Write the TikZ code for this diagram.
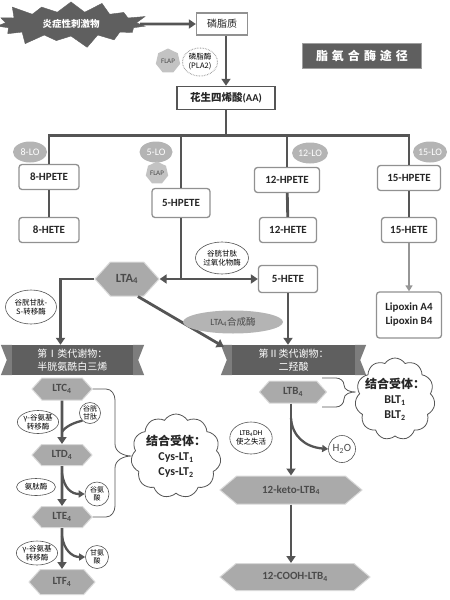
\documentclass[tikz,border=0pt]{standalone}
\usepackage{fontspec}
\setmainfont{Carlito}
\newfontfamily\cjk{Noto Sans CJK SC}
\usetikzlibrary{arrows.meta,positioning,shapes.geometric,shapes.symbols,calc}
\definecolor{lxedge}{RGB}{85,85,85}
\definecolor{lxbox}{RGB}{145,145,145}
\definecolor{lxhex}{RGB}{170,170,170}
\definecolor{lxink}{RGB}{75,75,75}
\definecolor{lxband}{RGB}{95,95,95}
\definecolor{lxtail}{RGB}{125,125,125}
\definecolor{lxlo}{RGB}{180,180,180}
\definecolor{lxlight}{RGB}{150,150,150}
\tikzset{
  lxbox/.style={
    draw=lxbox, line width=1.3pt, rounded corners=3pt, fill=white,
    align=center, inner sep=2pt, font=\fontsize{11}{13}\selectfont\bfseries,
    text=black!85, minimum width=60pt, minimum height=25pt
  },
  hexa/.style={
    shape=signal, signal to=east and west, signal pointer angle=96,
    draw=lxhex!45!white, line width=1pt, fill=lxhex, text=lxink,
    font=\fontsize{11}{13}\selectfont\bfseries, inner sep=1pt
  },
  lo/.style={ellipse, fill=lxlo, text=white, font=\fontsize{10}{12}\selectfont,
    inner sep=0pt, minimum width=34pt, minimum height=21pt},
  flap/.style={regular polygon, regular polygon sides=7, fill=lxlo!80!white,
    text=lxink, font=\fontsize{7}{8}\selectfont, inner sep=0pt, minimum size=25pt},
  enz/.style={ellipse, draw=lxedge, line width=0.6pt, fill=white, align=center,
    font=\fontsize{7.5}{9}\selectfont\cjk, inner sep=0pt},
  ring/.style={circle, draw=lxedge, line width=0.6pt, fill=white, align=center,
    font=\fontsize{7}{8}\selectfont\cjk, inner sep=0pt},
  band/.style={fill=lxband, text=white, align=center,
    font=\fontsize{10}{13}\selectfont\cjk, minimum height=30pt, inner sep=1pt},
  tail/.style={fill=lxtail},
  arr/.style={-{Triangle[length=7pt,width=9pt]}, draw=lxedge, line width=2.8pt},
  darr/.style={arr, {Triangle[length=7pt,width=9pt]}-{Triangle[length=7pt,width=9pt]}},
  sarr/.style={-{Triangle[length=6pt,width=7pt]}, draw=lxedge, line width=2.3pt},
  ln/.style={draw=lxedge, line width=2.8pt},
  brace/.style={draw=lxedge, line width=0.8pt},
  rcloud/.style={cloud, cloud puffs=11, cloud puff arc=115, draw=lxedge,
    line width=0.8pt, fill=white, inner sep=0pt},
  cloudtxt/.style={align=center, font=\fontsize{12}{15}\selectfont\bfseries, text=black!85}
}
\newcommand{\lxtails}[1]{%
  \fill[tail] (#1.north west) -- ++(-11,0) -- ([xshift=-5pt]#1.west)
    -- ([xshift=-11pt]#1.south west) -- (#1.south west) -- cycle;
  \fill[tail] (#1.north east) -- ++(11,0) -- ([xshift=5pt]#1.east)
    -- ([xshift=11pt]#1.south east) -- (#1.south east) -- cycle;}
\newcommand{\lsub}[1]{\textsubscript{#1}}
\begin{document}
\begin{tikzpicture}[x=1pt, y=-1pt]
  \useasboundingbox (0,0) rectangle (450,600);
  % top: stimulus, phospholipid, arachidonic acid
  \node[starburst, starburst points=15, starburst point height=14pt, fill=lxband,
    draw=lxband, text=white, font=\fontsize{9.5}{11}\selectfont\cjk\bfseries,
    inner xsep=18pt, inner ysep=4pt] (stim) at (71,24) {炎症性刺激物};
  \node[lxbox, rounded corners=0pt, minimum width=51pt, minimum height=22pt,
    font=\fontsize{10}{12}\selectfont\cjk] (pl) at (222,24) {磷脂质};
  \node[fill=lxband, text=white, draw=lxband!60!white, line width=0.6pt,
    font=\fontsize{12}{14}\selectfont\cjk\bfseries, minimum width=119pt,
    minimum height=25pt] (ttl) at (362,56) {脂\hspace{4pt}氧\hspace{4pt}合\hspace{4pt}酶\hspace{4pt}途\hspace{4pt}径};
  \node[lxbox, rounded corners=0pt, draw=lxedge, line width=1.5pt, minimum width=98pt,
    minimum height=23pt, font=\fontsize{10.5}{12}\selectfont\bfseries] (aa) at (226,98)
    {{\cjk 花生四烯酸}(AA)};
  \node[flap] (flap1) at (168,61) {FLAP};
  \node[enz, draw=lxlight, densely dotted, line width=1pt, minimum width=35pt,
    minimum height=28pt] (pla) at (200,62) {磷脂酶\\(PLA2)};
  \draw[arr] (stim.east) -- (pl.west);
  \draw[arr] (pl.south -| aa.north) -- (aa.north);

  % lipoxygenase branches
  \node[lxbox] (h8) at (49,177) {8-HPETE};
  \node[lxbox] (e8) at (49,230) {8-HETE};
  \node[lxbox, minimum width=58pt, minimum height=29pt] (h5) at (181,203) {5-HPETE};
  \node[lxbox, minimum width=65pt] (h12) at (287,180) {12-HPETE};
  \node[lxbox, minimum width=57pt] (e12) at (288,230) {12-HETE};
  \node[lxbox, minimum width=63pt] (h15) at (409,178) {15-HPETE};
  \node[lxbox, minimum width=55pt] (e15) at (409,230) {15-HETE};
  \node[lxbox, minimum width=65pt, minimum height=46pt,
    font=\fontsize{11}{14}\selectfont\bfseries] (lipox) at (409,315) {Lipoxin A4\\Lipoxin B4};
  \draw[ln] (aa.south) -- ++(0,25) coordinate (bar);
  \draw[ln] (h8.north) |- (h15.north |- bar) -- (h15.north);
  \draw[ln] (h5.north) -- (h5.north |- bar);
  \draw[ln] (h12.north) -- (h12.north |- bar);
  \draw[ln] (h8) -- (e8);
  \draw[ln] (h12) -- (e12);
  \draw[ln] (h15) -- (e15);
  \draw[sarr, draw=lxlight] (e15.south) -- (lipox.north);
  \node[lo] (lo8) at (30,152) {8-LO};
  \node[lo, minimum width=33pt] (lo5) at (156,152) {5-LO};
  \node[flap, minimum size=23pt] (flap2) at (157,173) {FLAP};
  \node[lo, minimum width=36pt] (lo12) at (310,153) {12-LO};
  \node[lo] (lo15) at (430,152) {15-LO};

  % 5-LO pathway
  \node[hexa, minimum width=64pt, minimum height=34pt,
    font=\fontsize{12.5}{14}\selectfont\bfseries] (lta4) at (127,279) {LTA\lsub{4}};
  \node[lxbox, minimum width=59pt, minimum height=27pt] (e5) at (288,279) {5-HETE};
  \draw[darr] (lta4.east) -- (e5.west);
  \draw[ln] (h5.south) -- (h5.south |- e5.west);
  \node[enz, minimum width=50pt, minimum height=32pt] (gpx) at (222,258) {谷胱甘肽\\过氧化物酶};

  \node[band, minimum width=121pt] (band1) at (72.5,360) {第Ⅰ类代谢物：\\半胱氨酰白三烯};
  \node[band, minimum width=123pt] (band2) at (293.5,360) {第Ⅱ类代谢物：\\二羟酸};
  \lxtails{band1}
  \lxtails{band2}
  \draw[arr] (lta4.west) -| ([xshift=-12pt]band1.north);
  \node[enz, minimum width=51pt, minimum height=34pt] (gst) at (31,307) {谷胱甘肽-\\S-转移酶};
  \draw[arr] (lta4.-58) -- ([xshift=-8pt,yshift=-2pt]band2.north west);
  \draw[arr] (e5.south) -- (e5.south |- band2.north);
  \node[ellipse, fill=lxlo, text=lxink, font=\fontsize{9.5}{11}\selectfont,
    minimum width=100pt, minimum height=23pt, inner sep=0pt] (synth) at (233,322)
    {LTA\lsub{4}{\cjk 合成酶}};

  % cysteinyl leukotrienes
  \node[hexa, minimum width=60pt, minimum height=22pt] (ltc4) at (62,389) {LTC\lsub{4}};
  \node[hexa, minimum width=60pt, minimum height=21pt] (ltd4) at (62,455) {LTD\lsub{4}};
  \node[hexa, minimum width=60pt, minimum height=21pt] (lte4) at (62,517) {LTE\lsub{4}};
  \node[hexa, minimum width=66pt, minimum height=25pt] (ltf4) at (62,582) {LTF\lsub{4}};
  \draw[arr] (ltc4) -- (ltd4);
  \draw[arr] (ltd4) -- (lte4);
  \draw[arr] (lte4) -- (ltf4);
  \path (ltc4.south) -- (ltd4.north) coordinate[pos=0.72] (m1);
  \path (ltd4.south) -- (lte4.north) coordinate[pos=0.18] (m2);
  \path (lte4.south) -- (ltf4.north) coordinate[pos=0.2] (m3);
  \node[enz, minimum width=41pt, minimum height=23pt] (ggt1) at (38,422) {γ-谷氨基\\转移酶};
  \node[ring, minimum size=21pt] (gsh) at (90,413) {谷胱\\甘肽};
  \node[enz, minimum width=39pt, minimum height=17pt] (apn) at (36,487) {氨肽酶};
  \node[ring, minimum size=24pt] (glu) at (97,494) {谷氨\\酸};
  \node[enz, minimum width=41pt, minimum height=24pt] (ggt2) at (37,553) {γ-谷氨基\\转移酶};
  \node[ring, minimum size=23pt] (gly) at (97,557) {甘氨\\酸};
  \draw[ln, line width=2.3pt] (gsh.225) .. controls (68,424) and (63,430) .. (m1);
  \draw[sarr] (m2) .. controls (64,489) and (72,494) .. (glu.west);
  \draw[sarr] (m3) .. controls (64,550) and (72,557) .. (gly.west);
  \node[rcloud, minimum width=90pt, minimum height=84pt] (cys) at (176,456) {};
  \node[cloudtxt] (cystxt) at (cys) {{\cjk 结合受体：}\\Cys-LT\lsub{1}\\Cys-LT\lsub{2}};
  \draw[brace] (ltc4.east) -- (106,389) to[out=0,in=90] (115,400) -- (115,444)
    to[out=270,in=180] (cys.west) to[out=180,in=90] (115,468) -- (115,506)
    to[out=270,in=0] (106,517) -- (lte4.east);

  % LTB4 branch
  \node[hexa, minimum width=67pt, minimum height=22pt] (ltb4) at (293,392) {LTB\lsub{4}};
  \node[hexa, signal pointer angle=80, minimum width=142pt, minimum height=28pt] (keto) at (291,490) {12-keto-LTB\lsub{4}};
  \node[hexa, signal pointer angle=80, minimum width=150pt, minimum height=27pt] (cooh) at (295,577) {12-COOH-LTB\lsub{4}};
  \draw[arr] (ltb4.south -| keto.north) -- (keto.north);
  \draw[arr] (keto.south) -- (keto.south |- cooh.north);
  \path (ltb4.south -| keto.north) -- (keto.north) coordinate[pos=0.2] (m4);
  \node[enz, minimum width=38pt, minimum height=32pt,
    font=\fontsize{7.5}{9}\selectfont] (dh) at (251,438) {LTB\lsub{4}DH\\{\cjk 使之失活}};
  \node[circle, draw=lxedge, line width=0.6pt, fill=white, text=lxink, inner sep=0pt,
    minimum size=27pt, font=\fontsize{11}{13}\selectfont] (h2o) at (342,449) {H\lsub{2}O};
  \draw[sarr] (m4) .. controls (292,436) and (305,447) .. (h2o.west);
  \node[rcloud, minimum width=80pt, minimum height=82pt] (blt) at (395,399) {};
  \node[cloudtxt] (blttxt) at (blt) {{\cjk 结合受体：}\\BLT\lsub{1}\\BLT\lsub{2}};
  \coordinate (bt) at (322,378);
  \coordinate (bb) at (322,407);
  \draw[brace] (bt) -- (336,378) to[out=0,in=90] (344,385)
    to[out=270,in=180] (blt.west |- ltb4.center) to[out=180,in=90] (344,399)
    to[out=270,in=0] (336,407) -- (bb);
\end{tikzpicture}
\end{document}
